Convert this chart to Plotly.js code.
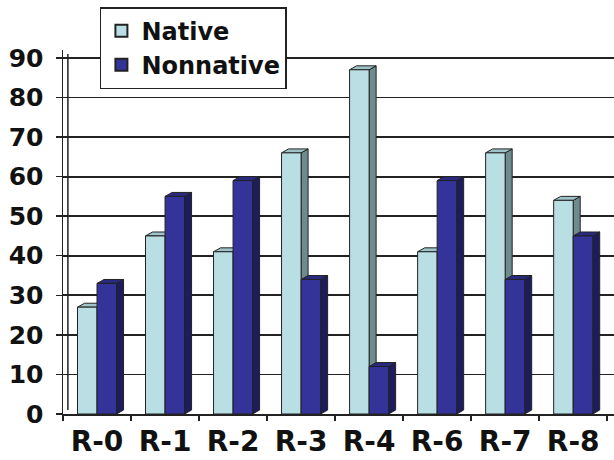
<!DOCTYPE html>
<html>
<head>
<meta charset="utf-8">
<script src="https://cdn.plot.ly/plotly-3.0.1.min.js"></script>
<style>html,body{margin:0;padding:0;background:#fff;}#chart{width:614px;height:460px;}</style>
</head>
<body>
<div id="chart"></div>
<script>
// ---- data ----
var categories = ["R-0", "R-1", "R-2", "R-3", "R-4", "R-6", "R-7", "R-8"];
var nativeValues = [27, 45, 41, 66, 87, 41, 66, 54];
var nonnativeValues = [33, 55, 59, 34, 12, 59, 34, 45];
var seriesNames = ["Native", "Nonnative"];
var yTickValues = [0, 10, 20, 30, 40, 50, 60, 70, 80, 90];

// ---- styles ----
var frontColors = ["#b9dfe5", "#333399"];
var sideColors = ["#6e8c8e", "#1d1d5e"];
var topColors = ["#9fc3c8", "#2a2a80"];
var edge = "#222222";
var bargap = 0.426;
var depthX = 0.103;   // 3-D depth in category units
var depthY = 1.0;     // 3-D depth in value units
var font = "DejaVu Sans, Arial, sans-serif";

var series = [nativeValues, nonnativeValues];
var traces = series.map(function (vals, s) {
  return {
    type: "bar",
    name: seriesNames[s],
    legendgroup: "g" + s,
    x: categories,
    y: vals,
    marker: { color: frontColors[s], line: { color: edge, width: 1 } },
    hoverinfo: "x+y+name"
  };
});

// 3-D side and top faces, placed through the axes from the same data
var shapes = [];
var groupW = 1 - bargap, barW = groupW / 2;
series.forEach(function (vals, s) {
  var off = (s === 0 ? -1 : 1) * groupW / 4;
  vals.forEach(function (v, i) {
    var x0 = i + off - barW / 2, x1 = i + off + barW / 2;
    shapes.push({
      type: "path", xref: "x", yref: "y", layer: "between",
      path: "M" + x1 + ",0 L" + (x1 + depthX) + "," + depthY + " L" + (x1 + depthX) + "," + (v + depthY) + " L" + x1 + "," + v + " Z",
      fillcolor: sideColors[s], line: { color: edge, width: 1 }
    });
    shapes.push({
      type: "path", xref: "x", yref: "y", layer: "between",
      path: "M" + x0 + "," + v + " L" + x1 + "," + v + " L" + (x1 + depthX) + "," + (v + depthY) + " L" + (x0 + depthX) + "," + (v + depthY) + " Z",
      fillcolor: topColors[s], line: { color: edge, width: 1 }
    });
  });
});
// back-wall edge line
shapes.push({
  type: "line", xref: "x", yref: "y", layer: "between",
  x0: -0.5 + depthX * 0.7, x1: -0.5 + depthX * 0.7, y0: depthY, y1: yTickValues[yTickValues.length - 1] + depthY,
  line: { color: edge, width: 1.5 }
});

var layout = {
  width: 614, height: 460,
  margin: { l: 63, r: 0, t: 50, b: 46 },
  paper_bgcolor: "#ffffff", plot_bgcolor: "#ffffff",
  barmode: "group", bargap: bargap, bargroupgap: 0,
  showlegend: true,
  legend: {
    x: 0.067, y: 1.118, xanchor: "left", yanchor: "top",
    bgcolor: "#ffffff", bordercolor: edge, borderwidth: 1.5,
    font: { family: font, size: 24, color: "#111", weight: "bold" },
    traceorder: "grouped", tracegroupgap: 0,
    itemsizing: "constant",
    entrywidth: 170, entrywidthmode: "pixels"
  },
  xaxis: {
    type: "category",
    range: [-0.5, 7.6],
    tickson: "boundaries",
    ticks: "outside", ticklen: 5, tickwidth: 1.5, tickcolor: edge,
    showline: true, linecolor: edge, linewidth: 1.5,
    showgrid: false,
    tickfont: { family: font, size: 28, color: "#111", weight: "bold" },
    ticklabelstandoff: 2,
    fixedrange: true
  },
  yaxis: {
    range: [0, 92.0],
    tickvals: yTickValues,
    ticktext: yTickValues.map(String),
    ticks: "outside", ticklen: 6, tickwidth: 1.5, tickcolor: edge,
    showline: true, linecolor: edge, linewidth: 1.5,
    showgrid: true, gridcolor: "#222222", gridwidth: 1.8,
    zeroline: false,
    tickfont: { family: font, size: 25, color: "#111", weight: "bold" },
    ticklabelstandoff: 7,
    fixedrange: true
  },
  shapes: shapes
};

Plotly.newPlot("chart", traces, layout, { displayModeBar: false, staticPlot: true });
</script>
</body>
</html>
